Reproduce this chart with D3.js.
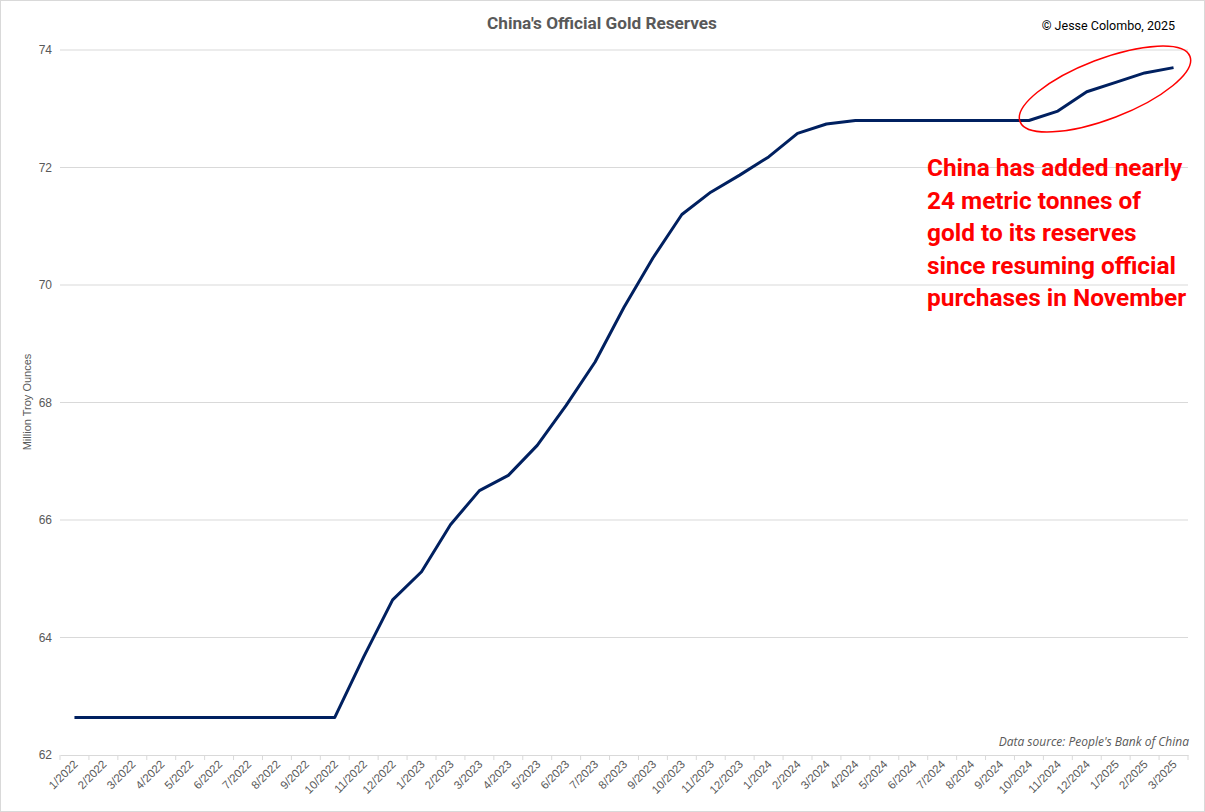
<!DOCTYPE html>
<html><head><meta charset="utf-8">
<script src="https://cdn.jsdelivr.net/npm/d3@7"></script>
<style>body{margin:0;background:#fff}svg{display:block}</style>
</head><body>
<svg id="c" width="1205" height="812"></svg>
<script>
const months = ["1/2022","2/2022","3/2022","4/2022","5/2022","6/2022","7/2022","8/2022","9/2022","10/2022","11/2022","12/2022",
"1/2023","2/2023","3/2023","4/2023","5/2023","6/2023","7/2023","8/2023","9/2023","10/2023","11/2023","12/2023",
"1/2024","2/2024","3/2024","4/2024","5/2024","6/2024","7/2024","8/2024","9/2024","10/2024","11/2024","12/2024",
"1/2025","2/2025","3/2025"];
const reserves = [62.64,62.64,62.64,62.64,62.64,62.64,62.64,62.64,62.64,62.64,63.67,64.64,
65.12,65.92,66.50,66.76,67.27,67.95,68.69,69.62,70.46,71.20,71.58,71.87,
72.18,72.58,72.74,72.80,72.80,72.80,72.80,72.80,72.80,72.80,72.96,73.29,
73.45,73.61,73.70];
const yTicks = [62,64,66,68,70,72,74];
const titleText = "China's Official Gold Reserves";
const creditText = "© Jesse Colombo, 2025";
const sourceText = "Data source: People's Bank of China";
const yLabel = "Million Troy Ounces";
const noteLines = ["China has added nearly","24 metric tonnes of","gold to its reserves","since resuming official","purchases in November"];

const svg = d3.select("#c");
const W=1205,H=812;
svg.append("rect").attr("x",0.5).attr("y",0.5).attr("width",W-1).attr("height",H-1).attr("fill","#fff").attr("stroke","#d9d9d9");

const x = d3.scaleBand().domain(months).range([60,1188]);
const y = d3.scaleLinear().domain([62,74]).range([755,50]);

// gridlines
svg.append("g").selectAll("line").data(yTicks.filter(t=>t>62)).join("line")
  .attr("x1",60).attr("x2",1188).attr("y1",d=>y(d)).attr("y2",d=>y(d))
  .attr("stroke","#d9d9d9").attr("stroke-width",1);

// y axis labels
const ya = svg.append("g").attr("transform","translate(52,0)")
  .call(d3.axisLeft(y).tickValues(yTicks).tickSize(0).tickPadding(0).tickFormat(d3.format("d")));
ya.select(".domain").remove();
ya.selectAll("text").attr("font-family","Liberation Sans, Arial, sans-serif").attr("font-size",12).attr("fill","#595959");

// x axis
const xa = svg.append("g").attr("transform","translate(0,755)")
  .call(d3.axisBottom(x).tickSize(0).tickPadding(0));
xa.select(".domain").attr("stroke","#d9d9d9");
xa.selectAll(".tick line").remove();
// boundary tick marks
svg.append("g").selectAll("line").data(months.concat(["end"])).join("line")
  .attr("x1",(d,i)=>60+i*x.step()).attr("x2",(d,i)=>60+i*x.step())
  .attr("y1",755).attr("y2",760).attr("stroke","#d9d9d9");
xa.selectAll(".tick text")
  .attr("font-family","Liberation Sans, Arial, sans-serif").attr("font-size",11.5).attr("fill","#595959")
  .attr("text-anchor","end").attr("dy",0)
  .attr("transform","translate(4,10) rotate(-45)");

// line
const line = d3.line().x((d,i)=>x(months[i])+x.bandwidth()/2).y(d=>y(d));
svg.append("path").datum(reserves).attr("d",line).attr("fill","none")
  .attr("stroke","#002060").attr("stroke-width",3).attr("stroke-linejoin","round");

// ellipse
svg.append("ellipse").attr("cx",1105).attr("cy",89).attr("rx",91).attr("ry",30)
  .attr("transform","rotate(-21,1105,89)").attr("fill","none").attr("stroke","#ff0000").attr("stroke-width",1.5);

// title
svg.append("text").attr("x",602).attr("y",29).attr("text-anchor","middle")
  .attr("font-family","Roboto, Liberation Sans, sans-serif").attr("font-weight","bold").attr("font-size",17.2)
  .attr("fill","#595959").text(titleText);
svg.append("text").attr("x",1175).attr("y",30).attr("text-anchor","end")
  .attr("font-family","Roboto, Liberation Sans, sans-serif").attr("font-size",12.5)
  .attr("fill","#000").text(creditText);

// y label
svg.append("text").attr("transform","translate(31,402) rotate(-90)").attr("text-anchor","middle")
  .attr("font-family","Liberation Sans, Arial, sans-serif").attr("font-size",11).attr("fill","#595959").text(yLabel);

// source
svg.append("text").attr("x",1189).attr("y",746).attr("text-anchor","end")
  .attr("font-family","Open Sans, DejaVu Sans, sans-serif").attr("font-style","italic").attr("font-size",12)
  .attr("fill","#595959").text(sourceText);

// annotation
svg.append("g").selectAll("text").data(noteLines).join("text")
  .attr("x",927).attr("y",(d,i)=>176+i*32.5)
  .attr("font-family","Roboto, Liberation Sans, sans-serif").attr("font-weight","bold").attr("font-size",24.4)
  .attr("fill","#ff0000").text(d=>d);
</script>
</body></html>
